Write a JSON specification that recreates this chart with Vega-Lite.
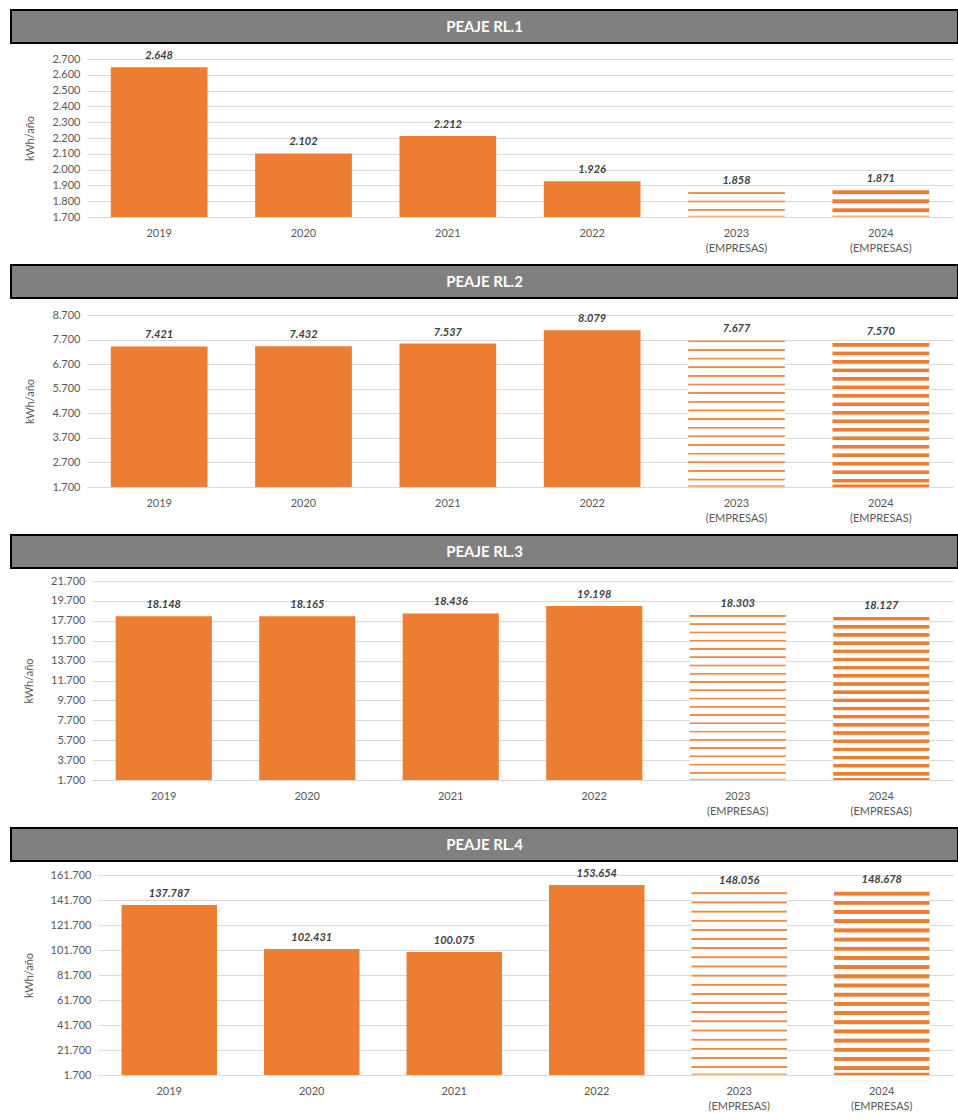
{
  "$schema": "https://vega.github.io/schema/vega-lite/v6.json",
  "padding": {"left": 10, "top": 9, "right": 0, "bottom": 0},
  "config": {
    "locale": {"number": {"decimal": ",", "thousands": ".", "grouping": [3], "currency": ["", " €"]}},
    "font": "Lato",
    "view": {"stroke": null},
    "axis": {"domain": false, "ticks": false, "gridColor": "#d9d9d9", "labelColor": "#595959", "labelFontSize": 11, "titleColor": "#595959", "titleFontWeight": "normal", "titleFontSize": 11, "labelFont": "Lato", "titleFont": "Lato"},
    "axisX": {"grid": false, "labelAngle": 0, "labelPadding": 10, "labelLineHeight": 15},
    "axisY": {"labelPadding": 7, "titlePadding": 16, "format": ",d"},
    "text": {"font": "Lato"}
  },
  "datasets": {
    "rl1": [{"year": "2019", "v": 2648}, {"year": "2020", "v": 2102}, {"year": "2021", "v": 2212}, {"year": "2022", "v": 1926}, {"year": "2023 (EMPRESAS)", "v": 1858}, {"year": "2024 (EMPRESAS)", "v": 1871}],
    "rl2": [{"year": "2019", "v": 7421}, {"year": "2020", "v": 7432}, {"year": "2021", "v": 7537}, {"year": "2022", "v": 8079}, {"year": "2023 (EMPRESAS)", "v": 7677}, {"year": "2024 (EMPRESAS)", "v": 7570}],
    "rl3": [{"year": "2019", "v": 18148}, {"year": "2020", "v": 18165}, {"year": "2021", "v": 18436}, {"year": "2022", "v": 19198}, {"year": "2023 (EMPRESAS)", "v": 18303}, {"year": "2024 (EMPRESAS)", "v": 18127}],
    "rl4": [{"year": "2019", "v": 137787}, {"year": "2020", "v": 102431}, {"year": "2021", "v": 100075}, {"year": "2022", "v": 153654}, {"year": "2023 (EMPRESAS)", "v": 148056}, {"year": "2024 (EMPRESAS)", "v": 148678}],
    "h1": [{"t": "PEAJE RL.1"}],
    "h2": [{"t": "PEAJE RL.2"}],
    "h3": [{"t": "PEAJE RL.3"}],
    "h4": [{"t": "PEAJE RL.4"}]
  },
  "spacing": 11,
  "vconcat": [
    {
      "spacing": 6,
      "vconcat": [
        {"data": {"name": "h1"}, "width": 947, "height": 33, "view": {"fill": "#808080", "stroke": "#000000", "strokeWidth": 2},
         "mark": {"type": "text", "fontWeight": "bold", "fontSize": 15, "color": "#ffffff", "baseline": "middle"},
         "encoding": {"x": {"field": "t", "type": "nominal", "axis": null}, "text": {"field": "t"}}},
        {"data": {"name": "rl1"}, "width": 942, "height": 158,
         "encoding": {
           "x": {"field": "year", "type": "nominal", "title": null, "scale": {"domain": ["2019", "2020", "2021", "2022", "2023 (EMPRESAS)", "2024 (EMPRESAS)"], "range": [76, 942], "paddingInner": 0.33, "paddingOuter": 0.165}, "axis": {"labelExpr": "split(datum.label, ' ')"}},
           "y": {"field": "v", "type": "quantitative", "title": "kWh/año", "scale": {"domain": [1700, 2700], "nice": false, "zero": false}, "axis": {"offset": -76, "values": [1700, 1800, 1900, 2000, 2100, 2200, 2300, 2400, 2500, 2600, 2700]}}
         },
         "layer": [
           {"transform": [{"filter": {"not": {"field": "year", "oneOf": ["2023 (EMPRESAS)", "2024 (EMPRESAS)"]}}}], "mark": {"type": "bar", "color": "#ed7d31"}, "encoding": {"y2": {"datum": 1700}}},
           {"transform": [{"filter": {"field": "year", "equal": "2023 (EMPRESAS)"}}], "mark": {"type": "bar", "fill": {"gradient": "linear", "x1": 0, "y1": 0, "x2": 0, "y2": 1, "stops": [
             {"offset": 0, "color": "#ffffff"}, {"offset": 0.02, "color": "#ef8a47"}, {"offset": 0.0667, "color": "#ef8a47"}, {"offset": 0.0933, "color": "#ffffff"},
             {"offset": 0.3333, "color": "#ffffff"}, {"offset": 0.3533, "color": "#ef8a47"}, {"offset": 0.4, "color": "#ef8a47"}, {"offset": 0.4267, "color": "#ffffff"},
             {"offset": 0.6667, "color": "#ffffff"}, {"offset": 0.6867, "color": "#ef8a47"}, {"offset": 0.7333, "color": "#ef8a47"}, {"offset": 0.76, "color": "#ffffff"},
             {"offset": 0.93, "color": "#ffffff"}, {"offset": 0.96, "color": "#f4b183"}, {"offset": 1, "color": "#f4b183"}]}}, "encoding": {"y2": {"datum": 1700}}},
           {"transform": [{"filter": {"field": "year", "equal": "2024 (EMPRESAS)"}}], "mark": {"type": "bar", "fill": {"gradient": "linear", "x1": 0, "y1": 0, "x2": 0, "y2": 1, "stops": [
             {"offset": 0, "color": "#ffffff"}, {"offset": 0.0267, "color": "#ed7d31"}, {"offset": 0.14, "color": "#ed7d31"}, {"offset": 0.1733, "color": "#ffffff"},
             {"offset": 0.3333, "color": "#ffffff"}, {"offset": 0.36, "color": "#ed7d31"}, {"offset": 0.4733, "color": "#ed7d31"}, {"offset": 0.5067, "color": "#ffffff"},
             {"offset": 0.6667, "color": "#ffffff"}, {"offset": 0.6933, "color": "#ed7d31"}, {"offset": 0.8067, "color": "#ed7d31"}, {"offset": 0.84, "color": "#ffffff"},
             {"offset": 0.93, "color": "#ffffff"}, {"offset": 0.96, "color": "#f4b183"}, {"offset": 1, "color": "#f4b183"}]}}, "encoding": {"y2": {"datum": 1700}}},
           {"mark": {"type": "text", "fontWeight": "bold", "fontStyle": "italic", "fontSize": 11, "color": "#404040", "baseline": "bottom", "dy": -6}, "encoding": {"text": {"field": "v", "type": "quantitative", "format": ",d"}}}
         ]}
      ]
    },
    {
      "spacing": 10,
      "vconcat": [
        {"data": {"name": "h2"}, "width": 947, "height": 33, "view": {"fill": "#808080", "stroke": "#000000", "strokeWidth": 2},
         "mark": {"type": "text", "fontWeight": "bold", "fontSize": 15, "color": "#ffffff", "baseline": "middle"},
         "encoding": {"x": {"field": "t", "type": "nominal", "axis": null}, "text": {"field": "t"}}},
        {"data": {"name": "rl2"}, "width": 942, "height": 172,
         "encoding": {
           "x": {"field": "year", "type": "nominal", "title": null, "scale": {"domain": ["2019", "2020", "2021", "2022", "2023 (EMPRESAS)", "2024 (EMPRESAS)"], "range": [76, 942], "paddingInner": 0.33, "paddingOuter": 0.165}, "axis": {"labelExpr": "split(datum.label, ' ')"}},
           "y": {"field": "v", "type": "quantitative", "title": "kWh/año", "scale": {"domain": [1700, 8700], "nice": false, "zero": false}, "axis": {"offset": -76, "values": [1700, 2700, 3700, 4700, 5700, 6700, 7700, 8700]}}
         },
         "layer": [
           {"transform": [{"filter": {"not": {"field": "year", "oneOf": ["2023 (EMPRESAS)", "2024 (EMPRESAS)"]}}}], "mark": {"type": "bar", "color": "#ed7d31"}, "encoding": {"y2": {"datum": 1700}}},
           {"transform": [{"filter": {"field": "year", "equal": "2023 (EMPRESAS)"}}], "mark": {"type": "bar", "fill": {"gradient": "linear", "x1": 0, "y1": 0, "x2": 0, "y2": 1, "stops": [
             {"offset": 0, "color": "#ffffff"}, {"offset": 0.00353, "color": "#ef8a47"}, {"offset": 0.01176, "color": "#ef8a47"}, {"offset": 0.01647, "color": "#ffffff"},
             {"offset": 0.05882, "color": "#ffffff"}, {"offset": 0.06235, "color": "#ef8a47"}, {"offset": 0.07058, "color": "#ef8a47"}, {"offset": 0.07529, "color": "#ffffff"},
             {"offset": 0.11765, "color": "#ffffff"}, {"offset": 0.12118, "color": "#ef8a47"}, {"offset": 0.12941, "color": "#ef8a47"}, {"offset": 0.13412, "color": "#ffffff"},
             {"offset": 0.17647, "color": "#ffffff"}, {"offset": 0.18, "color": "#ef8a47"}, {"offset": 0.18823, "color": "#ef8a47"}, {"offset": 0.19294, "color": "#ffffff"},
             {"offset": 0.23529, "color": "#ffffff"}, {"offset": 0.23882, "color": "#ef8a47"}, {"offset": 0.24705, "color": "#ef8a47"}, {"offset": 0.25176, "color": "#ffffff"},
             {"offset": 0.29412, "color": "#ffffff"}, {"offset": 0.29765, "color": "#ef8a47"}, {"offset": 0.30588, "color": "#ef8a47"}, {"offset": 0.31059, "color": "#ffffff"},
             {"offset": 0.35294, "color": "#ffffff"}, {"offset": 0.35647, "color": "#ef8a47"}, {"offset": 0.3647, "color": "#ef8a47"}, {"offset": 0.36941, "color": "#ffffff"},
             {"offset": 0.41176, "color": "#ffffff"}, {"offset": 0.41529, "color": "#ef8a47"}, {"offset": 0.42352, "color": "#ef8a47"}, {"offset": 0.42823, "color": "#ffffff"},
             {"offset": 0.47059, "color": "#ffffff"}, {"offset": 0.47412, "color": "#ef8a47"}, {"offset": 0.48235, "color": "#ef8a47"}, {"offset": 0.48706, "color": "#ffffff"},
             {"offset": 0.52941, "color": "#ffffff"}, {"offset": 0.53294, "color": "#ef8a47"}, {"offset": 0.54117, "color": "#ef8a47"}, {"offset": 0.54588, "color": "#ffffff"},
             {"offset": 0.58824, "color": "#ffffff"}, {"offset": 0.59177, "color": "#ef8a47"}, {"offset": 0.6, "color": "#ef8a47"}, {"offset": 0.60471, "color": "#ffffff"},
             {"offset": 0.64706, "color": "#ffffff"}, {"offset": 0.65059, "color": "#ef8a47"}, {"offset": 0.65882, "color": "#ef8a47"}, {"offset": 0.66353, "color": "#ffffff"},
             {"offset": 0.70588, "color": "#ffffff"}, {"offset": 0.70941, "color": "#ef8a47"}, {"offset": 0.71764, "color": "#ef8a47"}, {"offset": 0.72235, "color": "#ffffff"},
             {"offset": 0.76471, "color": "#ffffff"}, {"offset": 0.76824, "color": "#ef8a47"}, {"offset": 0.77647, "color": "#ef8a47"}, {"offset": 0.78118, "color": "#ffffff"},
             {"offset": 0.82353, "color": "#ffffff"}, {"offset": 0.82706, "color": "#ef8a47"}, {"offset": 0.83529, "color": "#ef8a47"}, {"offset": 0.84, "color": "#ffffff"},
             {"offset": 0.88235, "color": "#ffffff"}, {"offset": 0.88588, "color": "#ef8a47"}, {"offset": 0.89411, "color": "#ef8a47"}, {"offset": 0.89882, "color": "#ffffff"},
             {"offset": 0.94118, "color": "#ffffff"}, {"offset": 0.94471, "color": "#ef8a47"}, {"offset": 0.95294, "color": "#ef8a47"}, {"offset": 0.95765, "color": "#ffffff"},
             {"offset": 0.985, "color": "#ffffff"}, {"offset": 0.99, "color": "#f4b183"}, {"offset": 1, "color": "#f4b183"}]}}, "encoding": {"y2": {"datum": 1700}}},
           {"transform": [{"filter": {"field": "year", "equal": "2024 (EMPRESAS)"}}], "mark": {"type": "bar", "fill": {"gradient": "linear", "x1": 0, "y1": 0, "x2": 0, "y2": 1, "stops": [
             {"offset": 0, "color": "#ffffff"}, {"offset": 0.00471, "color": "#ed7d31"}, {"offset": 0.02471, "color": "#ed7d31"}, {"offset": 0.03059, "color": "#ffffff"},
             {"offset": 0.05882, "color": "#ffffff"}, {"offset": 0.06353, "color": "#ed7d31"}, {"offset": 0.08353, "color": "#ed7d31"}, {"offset": 0.08941, "color": "#ffffff"},
             {"offset": 0.11765, "color": "#ffffff"}, {"offset": 0.12236, "color": "#ed7d31"}, {"offset": 0.14236, "color": "#ed7d31"}, {"offset": 0.14824, "color": "#ffffff"},
             {"offset": 0.17647, "color": "#ffffff"}, {"offset": 0.18118, "color": "#ed7d31"}, {"offset": 0.20118, "color": "#ed7d31"}, {"offset": 0.20706, "color": "#ffffff"},
             {"offset": 0.23529, "color": "#ffffff"}, {"offset": 0.24, "color": "#ed7d31"}, {"offset": 0.26, "color": "#ed7d31"}, {"offset": 0.26588, "color": "#ffffff"},
             {"offset": 0.29412, "color": "#ffffff"}, {"offset": 0.29883, "color": "#ed7d31"}, {"offset": 0.31883, "color": "#ed7d31"}, {"offset": 0.32471, "color": "#ffffff"},
             {"offset": 0.35294, "color": "#ffffff"}, {"offset": 0.35765, "color": "#ed7d31"}, {"offset": 0.37765, "color": "#ed7d31"}, {"offset": 0.38353, "color": "#ffffff"},
             {"offset": 0.41176, "color": "#ffffff"}, {"offset": 0.41647, "color": "#ed7d31"}, {"offset": 0.43647, "color": "#ed7d31"}, {"offset": 0.44235, "color": "#ffffff"},
             {"offset": 0.47059, "color": "#ffffff"}, {"offset": 0.4753, "color": "#ed7d31"}, {"offset": 0.4953, "color": "#ed7d31"}, {"offset": 0.50118, "color": "#ffffff"},
             {"offset": 0.52941, "color": "#ffffff"}, {"offset": 0.53412, "color": "#ed7d31"}, {"offset": 0.55412, "color": "#ed7d31"}, {"offset": 0.56, "color": "#ffffff"},
             {"offset": 0.58824, "color": "#ffffff"}, {"offset": 0.59295, "color": "#ed7d31"}, {"offset": 0.61295, "color": "#ed7d31"}, {"offset": 0.61883, "color": "#ffffff"},
             {"offset": 0.64706, "color": "#ffffff"}, {"offset": 0.65177, "color": "#ed7d31"}, {"offset": 0.67177, "color": "#ed7d31"}, {"offset": 0.67765, "color": "#ffffff"},
             {"offset": 0.70588, "color": "#ffffff"}, {"offset": 0.71059, "color": "#ed7d31"}, {"offset": 0.73059, "color": "#ed7d31"}, {"offset": 0.73647, "color": "#ffffff"},
             {"offset": 0.76471, "color": "#ffffff"}, {"offset": 0.76942, "color": "#ed7d31"}, {"offset": 0.78942, "color": "#ed7d31"}, {"offset": 0.7953, "color": "#ffffff"},
             {"offset": 0.82353, "color": "#ffffff"}, {"offset": 0.82824, "color": "#ed7d31"}, {"offset": 0.84824, "color": "#ed7d31"}, {"offset": 0.85412, "color": "#ffffff"},
             {"offset": 0.88235, "color": "#ffffff"}, {"offset": 0.88706, "color": "#ed7d31"}, {"offset": 0.90706, "color": "#ed7d31"}, {"offset": 0.91294, "color": "#ffffff"},
             {"offset": 0.94118, "color": "#ffffff"}, {"offset": 0.94589, "color": "#ed7d31"}, {"offset": 0.96589, "color": "#ed7d31"}, {"offset": 0.97177, "color": "#ffffff"},
             {"offset": 0.98, "color": "#ffffff"}, {"offset": 0.985, "color": "#ed7d31"}, {"offset": 1, "color": "#ed7d31"}]}}, "encoding": {"y2": {"datum": 1700}}},
           {"mark": {"type": "text", "fontWeight": "bold", "fontStyle": "italic", "fontSize": 11, "color": "#404040", "baseline": "bottom", "dy": -6}, "encoding": {"text": {"field": "v", "type": "quantitative", "format": ",d"}}}
         ]}
      ]
    },
    {
      "spacing": 6,
      "vconcat": [
        {"data": {"name": "h3"}, "width": 947, "height": 33, "view": {"fill": "#808080", "stroke": "#000000", "strokeWidth": 2},
         "mark": {"type": "text", "fontWeight": "bold", "fontSize": 15, "color": "#ffffff", "baseline": "middle"},
         "encoding": {"x": {"field": "t", "type": "nominal", "axis": null}, "text": {"field": "t"}}},
        {"data": {"name": "rl3"}, "width": 942, "height": 199,
         "encoding": {
           "x": {"field": "year", "type": "nominal", "title": null, "scale": {"domain": ["2019", "2020", "2021", "2022", "2023 (EMPRESAS)", "2024 (EMPRESAS)"], "range": [81, 942], "paddingInner": 0.33, "paddingOuter": 0.165}, "axis": {"labelExpr": "split(datum.label, ' ')"}},
           "y": {"field": "v", "type": "quantitative", "title": "kWh/año", "scale": {"domain": [1700, 21700], "nice": false, "zero": false}, "axis": {"offset": -81, "values": [1700, 3700, 5700, 7700, 9700, 11700, 13700, 15700, 17700, 19700, 21700]}}
         },
         "layer": [
           {"transform": [{"filter": {"not": {"field": "year", "oneOf": ["2023 (EMPRESAS)", "2024 (EMPRESAS)"]}}}], "mark": {"type": "bar", "color": "#ed7d31"}, "encoding": {"y2": {"datum": 1700}}},
           {"transform": [{"filter": {"field": "year", "equal": "2023 (EMPRESAS)"}}], "mark": {"type": "bar", "fill": {"gradient": "linear", "x1": 0, "y1": 0, "x2": 0, "y2": 1, "stops": [
             {"offset": 0, "color": "#ffffff"}, {"offset": 0.003, "color": "#ef8a47"}, {"offset": 0.01, "color": "#ef8a47"}, {"offset": 0.014, "color": "#ffffff"},
             {"offset": 0.05, "color": "#ffffff"}, {"offset": 0.053, "color": "#ef8a47"}, {"offset": 0.06, "color": "#ef8a47"}, {"offset": 0.064, "color": "#ffffff"},
             {"offset": 0.1, "color": "#ffffff"}, {"offset": 0.103, "color": "#ef8a47"}, {"offset": 0.11, "color": "#ef8a47"}, {"offset": 0.114, "color": "#ffffff"},
             {"offset": 0.15, "color": "#ffffff"}, {"offset": 0.153, "color": "#ef8a47"}, {"offset": 0.16, "color": "#ef8a47"}, {"offset": 0.164, "color": "#ffffff"},
             {"offset": 0.2, "color": "#ffffff"}, {"offset": 0.203, "color": "#ef8a47"}, {"offset": 0.21, "color": "#ef8a47"}, {"offset": 0.214, "color": "#ffffff"},
             {"offset": 0.25, "color": "#ffffff"}, {"offset": 0.253, "color": "#ef8a47"}, {"offset": 0.26, "color": "#ef8a47"}, {"offset": 0.264, "color": "#ffffff"},
             {"offset": 0.3, "color": "#ffffff"}, {"offset": 0.303, "color": "#ef8a47"}, {"offset": 0.31, "color": "#ef8a47"}, {"offset": 0.314, "color": "#ffffff"},
             {"offset": 0.35, "color": "#ffffff"}, {"offset": 0.353, "color": "#ef8a47"}, {"offset": 0.36, "color": "#ef8a47"}, {"offset": 0.364, "color": "#ffffff"},
             {"offset": 0.4, "color": "#ffffff"}, {"offset": 0.403, "color": "#ef8a47"}, {"offset": 0.41, "color": "#ef8a47"}, {"offset": 0.414, "color": "#ffffff"},
             {"offset": 0.45, "color": "#ffffff"}, {"offset": 0.453, "color": "#ef8a47"}, {"offset": 0.46, "color": "#ef8a47"}, {"offset": 0.464, "color": "#ffffff"},
             {"offset": 0.5, "color": "#ffffff"}, {"offset": 0.503, "color": "#ef8a47"}, {"offset": 0.51, "color": "#ef8a47"}, {"offset": 0.514, "color": "#ffffff"},
             {"offset": 0.55, "color": "#ffffff"}, {"offset": 0.553, "color": "#ef8a47"}, {"offset": 0.56, "color": "#ef8a47"}, {"offset": 0.564, "color": "#ffffff"},
             {"offset": 0.6, "color": "#ffffff"}, {"offset": 0.603, "color": "#ef8a47"}, {"offset": 0.61, "color": "#ef8a47"}, {"offset": 0.614, "color": "#ffffff"},
             {"offset": 0.65, "color": "#ffffff"}, {"offset": 0.653, "color": "#ef8a47"}, {"offset": 0.66, "color": "#ef8a47"}, {"offset": 0.664, "color": "#ffffff"},
             {"offset": 0.7, "color": "#ffffff"}, {"offset": 0.703, "color": "#ef8a47"}, {"offset": 0.71, "color": "#ef8a47"}, {"offset": 0.714, "color": "#ffffff"},
             {"offset": 0.75, "color": "#ffffff"}, {"offset": 0.753, "color": "#ef8a47"}, {"offset": 0.76, "color": "#ef8a47"}, {"offset": 0.764, "color": "#ffffff"},
             {"offset": 0.8, "color": "#ffffff"}, {"offset": 0.803, "color": "#ef8a47"}, {"offset": 0.81, "color": "#ef8a47"}, {"offset": 0.814, "color": "#ffffff"},
             {"offset": 0.85, "color": "#ffffff"}, {"offset": 0.853, "color": "#ef8a47"}, {"offset": 0.86, "color": "#ef8a47"}, {"offset": 0.864, "color": "#ffffff"},
             {"offset": 0.9, "color": "#ffffff"}, {"offset": 0.903, "color": "#ef8a47"}, {"offset": 0.91, "color": "#ef8a47"}, {"offset": 0.914, "color": "#ffffff"},
             {"offset": 0.95, "color": "#ffffff"}, {"offset": 0.953, "color": "#ef8a47"}, {"offset": 0.96, "color": "#ef8a47"}, {"offset": 0.964, "color": "#ffffff"},
             {"offset": 0.99, "color": "#ffffff"}, {"offset": 0.993, "color": "#f4b183"}, {"offset": 1, "color": "#f4b183"}]}}, "encoding": {"y2": {"datum": 1700}}},
           {"transform": [{"filter": {"field": "year", "equal": "2024 (EMPRESAS)"}}], "mark": {"type": "bar", "fill": {"gradient": "linear", "x1": 0, "y1": 0, "x2": 0, "y2": 1, "stops": [
             {"offset": 0, "color": "#ffffff"}, {"offset": 0.004, "color": "#ed7d31"}, {"offset": 0.021, "color": "#ed7d31"}, {"offset": 0.026, "color": "#ffffff"},
             {"offset": 0.05, "color": "#ffffff"}, {"offset": 0.054, "color": "#ed7d31"}, {"offset": 0.071, "color": "#ed7d31"}, {"offset": 0.076, "color": "#ffffff"},
             {"offset": 0.1, "color": "#ffffff"}, {"offset": 0.104, "color": "#ed7d31"}, {"offset": 0.121, "color": "#ed7d31"}, {"offset": 0.126, "color": "#ffffff"},
             {"offset": 0.15, "color": "#ffffff"}, {"offset": 0.154, "color": "#ed7d31"}, {"offset": 0.171, "color": "#ed7d31"}, {"offset": 0.176, "color": "#ffffff"},
             {"offset": 0.2, "color": "#ffffff"}, {"offset": 0.204, "color": "#ed7d31"}, {"offset": 0.221, "color": "#ed7d31"}, {"offset": 0.226, "color": "#ffffff"},
             {"offset": 0.25, "color": "#ffffff"}, {"offset": 0.254, "color": "#ed7d31"}, {"offset": 0.271, "color": "#ed7d31"}, {"offset": 0.276, "color": "#ffffff"},
             {"offset": 0.3, "color": "#ffffff"}, {"offset": 0.304, "color": "#ed7d31"}, {"offset": 0.321, "color": "#ed7d31"}, {"offset": 0.326, "color": "#ffffff"},
             {"offset": 0.35, "color": "#ffffff"}, {"offset": 0.354, "color": "#ed7d31"}, {"offset": 0.371, "color": "#ed7d31"}, {"offset": 0.376, "color": "#ffffff"},
             {"offset": 0.4, "color": "#ffffff"}, {"offset": 0.404, "color": "#ed7d31"}, {"offset": 0.421, "color": "#ed7d31"}, {"offset": 0.426, "color": "#ffffff"},
             {"offset": 0.45, "color": "#ffffff"}, {"offset": 0.454, "color": "#ed7d31"}, {"offset": 0.471, "color": "#ed7d31"}, {"offset": 0.476, "color": "#ffffff"},
             {"offset": 0.5, "color": "#ffffff"}, {"offset": 0.504, "color": "#ed7d31"}, {"offset": 0.521, "color": "#ed7d31"}, {"offset": 0.526, "color": "#ffffff"},
             {"offset": 0.55, "color": "#ffffff"}, {"offset": 0.554, "color": "#ed7d31"}, {"offset": 0.571, "color": "#ed7d31"}, {"offset": 0.576, "color": "#ffffff"},
             {"offset": 0.6, "color": "#ffffff"}, {"offset": 0.604, "color": "#ed7d31"}, {"offset": 0.621, "color": "#ed7d31"}, {"offset": 0.626, "color": "#ffffff"},
             {"offset": 0.65, "color": "#ffffff"}, {"offset": 0.654, "color": "#ed7d31"}, {"offset": 0.671, "color": "#ed7d31"}, {"offset": 0.676, "color": "#ffffff"},
             {"offset": 0.7, "color": "#ffffff"}, {"offset": 0.704, "color": "#ed7d31"}, {"offset": 0.721, "color": "#ed7d31"}, {"offset": 0.726, "color": "#ffffff"},
             {"offset": 0.75, "color": "#ffffff"}, {"offset": 0.754, "color": "#ed7d31"}, {"offset": 0.771, "color": "#ed7d31"}, {"offset": 0.776, "color": "#ffffff"},
             {"offset": 0.8, "color": "#ffffff"}, {"offset": 0.804, "color": "#ed7d31"}, {"offset": 0.821, "color": "#ed7d31"}, {"offset": 0.826, "color": "#ffffff"},
             {"offset": 0.85, "color": "#ffffff"}, {"offset": 0.854, "color": "#ed7d31"}, {"offset": 0.871, "color": "#ed7d31"}, {"offset": 0.876, "color": "#ffffff"},
             {"offset": 0.9, "color": "#ffffff"}, {"offset": 0.904, "color": "#ed7d31"}, {"offset": 0.921, "color": "#ed7d31"}, {"offset": 0.926, "color": "#ffffff"},
             {"offset": 0.95, "color": "#ffffff"}, {"offset": 0.954, "color": "#ed7d31"}, {"offset": 0.971, "color": "#ed7d31"}, {"offset": 0.976, "color": "#ffffff"},
             {"offset": 0.985, "color": "#ffffff"}, {"offset": 0.99, "color": "#ed7d31"}, {"offset": 1, "color": "#ed7d31"}]}}, "encoding": {"y2": {"datum": 1700}}},
           {"mark": {"type": "text", "fontWeight": "bold", "fontStyle": "italic", "fontSize": 11, "color": "#404040", "baseline": "bottom", "dy": -6}, "encoding": {"text": {"field": "v", "type": "quantitative", "format": ",d"}}}
         ]}
      ]
    },
    {
      "spacing": 6,
      "vconcat": [
        {"data": {"name": "h4"}, "width": 947, "height": 33, "view": {"fill": "#808080", "stroke": "#000000", "strokeWidth": 2},
         "mark": {"type": "text", "fontWeight": "bold", "fontSize": 15, "color": "#ffffff", "baseline": "middle"},
         "encoding": {"x": {"field": "t", "type": "nominal", "axis": null}, "text": {"field": "t"}}},
        {"data": {"name": "rl4"}, "width": 942, "height": 200,
         "encoding": {
           "x": {"field": "year", "type": "nominal", "title": null, "scale": {"domain": ["2019", "2020", "2021", "2022", "2023 (EMPRESAS)", "2024 (EMPRESAS)"], "range": [87, 942], "paddingInner": 0.33, "paddingOuter": 0.165}, "axis": {"labelExpr": "split(datum.label, ' ')"}},
           "y": {"field": "v", "type": "quantitative", "title": "kWh/año", "scale": {"domain": [1700, 161700], "nice": false, "zero": false}, "axis": {"offset": -87, "values": [1700, 21700, 41700, 61700, 81700, 101700, 121700, 141700, 161700]}}
         },
         "layer": [
           {"transform": [{"filter": {"not": {"field": "year", "oneOf": ["2023 (EMPRESAS)", "2024 (EMPRESAS)"]}}}], "mark": {"type": "bar", "color": "#ed7d31"}, "encoding": {"y2": {"datum": 1700}}},
           {"transform": [{"filter": {"field": "year", "equal": "2023 (EMPRESAS)"}}], "mark": {"type": "bar", "fill": {"gradient": "linear", "x1": 0, "y1": 0, "x2": 0, "y2": 1, "stops": [
             {"offset": 0, "color": "#ffffff"}, {"offset": 0.003, "color": "#ef8a47"}, {"offset": 0.01, "color": "#ef8a47"}, {"offset": 0.014, "color": "#ffffff"},
             {"offset": 0.05, "color": "#ffffff"}, {"offset": 0.053, "color": "#ef8a47"}, {"offset": 0.06, "color": "#ef8a47"}, {"offset": 0.064, "color": "#ffffff"},
             {"offset": 0.1, "color": "#ffffff"}, {"offset": 0.103, "color": "#ef8a47"}, {"offset": 0.11, "color": "#ef8a47"}, {"offset": 0.114, "color": "#ffffff"},
             {"offset": 0.15, "color": "#ffffff"}, {"offset": 0.153, "color": "#ef8a47"}, {"offset": 0.16, "color": "#ef8a47"}, {"offset": 0.164, "color": "#ffffff"},
             {"offset": 0.2, "color": "#ffffff"}, {"offset": 0.203, "color": "#ef8a47"}, {"offset": 0.21, "color": "#ef8a47"}, {"offset": 0.214, "color": "#ffffff"},
             {"offset": 0.25, "color": "#ffffff"}, {"offset": 0.253, "color": "#ef8a47"}, {"offset": 0.26, "color": "#ef8a47"}, {"offset": 0.264, "color": "#ffffff"},
             {"offset": 0.3, "color": "#ffffff"}, {"offset": 0.303, "color": "#ef8a47"}, {"offset": 0.31, "color": "#ef8a47"}, {"offset": 0.314, "color": "#ffffff"},
             {"offset": 0.35, "color": "#ffffff"}, {"offset": 0.353, "color": "#ef8a47"}, {"offset": 0.36, "color": "#ef8a47"}, {"offset": 0.364, "color": "#ffffff"},
             {"offset": 0.4, "color": "#ffffff"}, {"offset": 0.403, "color": "#ef8a47"}, {"offset": 0.41, "color": "#ef8a47"}, {"offset": 0.414, "color": "#ffffff"},
             {"offset": 0.45, "color": "#ffffff"}, {"offset": 0.453, "color": "#ef8a47"}, {"offset": 0.46, "color": "#ef8a47"}, {"offset": 0.464, "color": "#ffffff"},
             {"offset": 0.5, "color": "#ffffff"}, {"offset": 0.503, "color": "#ef8a47"}, {"offset": 0.51, "color": "#ef8a47"}, {"offset": 0.514, "color": "#ffffff"},
             {"offset": 0.55, "color": "#ffffff"}, {"offset": 0.553, "color": "#ef8a47"}, {"offset": 0.56, "color": "#ef8a47"}, {"offset": 0.564, "color": "#ffffff"},
             {"offset": 0.6, "color": "#ffffff"}, {"offset": 0.603, "color": "#ef8a47"}, {"offset": 0.61, "color": "#ef8a47"}, {"offset": 0.614, "color": "#ffffff"},
             {"offset": 0.65, "color": "#ffffff"}, {"offset": 0.653, "color": "#ef8a47"}, {"offset": 0.66, "color": "#ef8a47"}, {"offset": 0.664, "color": "#ffffff"},
             {"offset": 0.7, "color": "#ffffff"}, {"offset": 0.703, "color": "#ef8a47"}, {"offset": 0.71, "color": "#ef8a47"}, {"offset": 0.714, "color": "#ffffff"},
             {"offset": 0.75, "color": "#ffffff"}, {"offset": 0.753, "color": "#ef8a47"}, {"offset": 0.76, "color": "#ef8a47"}, {"offset": 0.764, "color": "#ffffff"},
             {"offset": 0.8, "color": "#ffffff"}, {"offset": 0.803, "color": "#ef8a47"}, {"offset": 0.81, "color": "#ef8a47"}, {"offset": 0.814, "color": "#ffffff"},
             {"offset": 0.85, "color": "#ffffff"}, {"offset": 0.853, "color": "#ef8a47"}, {"offset": 0.86, "color": "#ef8a47"}, {"offset": 0.864, "color": "#ffffff"},
             {"offset": 0.9, "color": "#ffffff"}, {"offset": 0.903, "color": "#ef8a47"}, {"offset": 0.91, "color": "#ef8a47"}, {"offset": 0.914, "color": "#ffffff"},
             {"offset": 0.95, "color": "#ffffff"}, {"offset": 0.953, "color": "#ef8a47"}, {"offset": 0.96, "color": "#ef8a47"}, {"offset": 0.964, "color": "#ffffff"},
             {"offset": 0.99, "color": "#ffffff"}, {"offset": 0.993, "color": "#f4b183"}, {"offset": 1, "color": "#f4b183"}]}}, "encoding": {"y2": {"datum": 1700}}},
           {"transform": [{"filter": {"field": "year", "equal": "2024 (EMPRESAS)"}}], "mark": {"type": "bar", "fill": {"gradient": "linear", "x1": 0, "y1": 0, "x2": 0, "y2": 1, "stops": [
             {"offset": 0, "color": "#ffffff"}, {"offset": 0.004, "color": "#ed7d31"}, {"offset": 0.021, "color": "#ed7d31"}, {"offset": 0.026, "color": "#ffffff"},
             {"offset": 0.05, "color": "#ffffff"}, {"offset": 0.054, "color": "#ed7d31"}, {"offset": 0.071, "color": "#ed7d31"}, {"offset": 0.076, "color": "#ffffff"},
             {"offset": 0.1, "color": "#ffffff"}, {"offset": 0.104, "color": "#ed7d31"}, {"offset": 0.121, "color": "#ed7d31"}, {"offset": 0.126, "color": "#ffffff"},
             {"offset": 0.15, "color": "#ffffff"}, {"offset": 0.154, "color": "#ed7d31"}, {"offset": 0.171, "color": "#ed7d31"}, {"offset": 0.176, "color": "#ffffff"},
             {"offset": 0.2, "color": "#ffffff"}, {"offset": 0.204, "color": "#ed7d31"}, {"offset": 0.221, "color": "#ed7d31"}, {"offset": 0.226, "color": "#ffffff"},
             {"offset": 0.25, "color": "#ffffff"}, {"offset": 0.254, "color": "#ed7d31"}, {"offset": 0.271, "color": "#ed7d31"}, {"offset": 0.276, "color": "#ffffff"},
             {"offset": 0.3, "color": "#ffffff"}, {"offset": 0.304, "color": "#ed7d31"}, {"offset": 0.321, "color": "#ed7d31"}, {"offset": 0.326, "color": "#ffffff"},
             {"offset": 0.35, "color": "#ffffff"}, {"offset": 0.354, "color": "#ed7d31"}, {"offset": 0.371, "color": "#ed7d31"}, {"offset": 0.376, "color": "#ffffff"},
             {"offset": 0.4, "color": "#ffffff"}, {"offset": 0.404, "color": "#ed7d31"}, {"offset": 0.421, "color": "#ed7d31"}, {"offset": 0.426, "color": "#ffffff"},
             {"offset": 0.45, "color": "#ffffff"}, {"offset": 0.454, "color": "#ed7d31"}, {"offset": 0.471, "color": "#ed7d31"}, {"offset": 0.476, "color": "#ffffff"},
             {"offset": 0.5, "color": "#ffffff"}, {"offset": 0.504, "color": "#ed7d31"}, {"offset": 0.521, "color": "#ed7d31"}, {"offset": 0.526, "color": "#ffffff"},
             {"offset": 0.55, "color": "#ffffff"}, {"offset": 0.554, "color": "#ed7d31"}, {"offset": 0.571, "color": "#ed7d31"}, {"offset": 0.576, "color": "#ffffff"},
             {"offset": 0.6, "color": "#ffffff"}, {"offset": 0.604, "color": "#ed7d31"}, {"offset": 0.621, "color": "#ed7d31"}, {"offset": 0.626, "color": "#ffffff"},
             {"offset": 0.65, "color": "#ffffff"}, {"offset": 0.654, "color": "#ed7d31"}, {"offset": 0.671, "color": "#ed7d31"}, {"offset": 0.676, "color": "#ffffff"},
             {"offset": 0.7, "color": "#ffffff"}, {"offset": 0.704, "color": "#ed7d31"}, {"offset": 0.721, "color": "#ed7d31"}, {"offset": 0.726, "color": "#ffffff"},
             {"offset": 0.75, "color": "#ffffff"}, {"offset": 0.754, "color": "#ed7d31"}, {"offset": 0.771, "color": "#ed7d31"}, {"offset": 0.776, "color": "#ffffff"},
             {"offset": 0.8, "color": "#ffffff"}, {"offset": 0.804, "color": "#ed7d31"}, {"offset": 0.821, "color": "#ed7d31"}, {"offset": 0.826, "color": "#ffffff"},
             {"offset": 0.85, "color": "#ffffff"}, {"offset": 0.854, "color": "#ed7d31"}, {"offset": 0.871, "color": "#ed7d31"}, {"offset": 0.876, "color": "#ffffff"},
             {"offset": 0.9, "color": "#ffffff"}, {"offset": 0.904, "color": "#ed7d31"}, {"offset": 0.921, "color": "#ed7d31"}, {"offset": 0.926, "color": "#ffffff"},
             {"offset": 0.95, "color": "#ffffff"}, {"offset": 0.954, "color": "#ed7d31"}, {"offset": 0.971, "color": "#ed7d31"}, {"offset": 0.976, "color": "#ffffff"},
             {"offset": 0.985, "color": "#ffffff"}, {"offset": 0.99, "color": "#ed7d31"}, {"offset": 1, "color": "#ed7d31"}]}}, "encoding": {"y2": {"datum": 1700}}},
           {"mark": {"type": "text", "fontWeight": "bold", "fontStyle": "italic", "fontSize": 11, "color": "#404040", "baseline": "bottom", "dy": -6}, "encoding": {"text": {"field": "v", "type": "quantitative", "format": ",d"}}}
         ]}
      ]
    }
  ]
}
